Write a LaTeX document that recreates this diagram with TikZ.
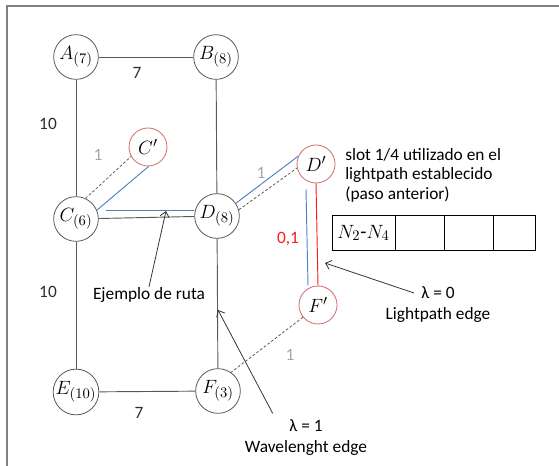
\documentclass[tikz,border=0pt]{standalone}
\usepackage{fontspec}
\setmainfont{Carlito}
\usetikzlibrary{arrows.meta,positioning}
\definecolor{EdgeGray}{HTML}{595959}
\definecolor{LabelGray}{HTML}{A6A6A6}
\definecolor{FrameGray}{HTML}{808080}
\definecolor{PathBlue}{HTML}{4F81BD}
\definecolor{VirtRed}{HTML}{D36A6A}
\definecolor{SlotRed}{HTML}{FF1A1A}

\begin{document}
\begin{tikzpicture}[
  x=0.75pt,y=-0.75pt,
  font=\fontsize{13}{14.6}\selectfont,
  physnode/.style={circle,draw=EdgeGray,line width=0.6pt,minimum size=33.5pt,inner sep=0pt,font=\fontsize{15}{17}\selectfont},
  virtnode/.style={circle,draw=VirtRed,line width=0.6pt,minimum size=28.5pt,inner sep=0pt,font=\fontsize{15}{17}\selectfont},
  edge/.style={draw=EdgeGray,line width=0.7pt},
  lpedge/.style={draw=PathBlue,line width=0.7pt},
  redge/.style={draw=SlotRed,line width=0.7pt},
  auxedge/.style={draw=EdgeGray,line width=0.6pt,dash pattern=on 2pt off 1.5pt},
  weight/.style={text=EdgeGray!50!black,inner sep=1pt},
  vweight/.style={text=LabelGray,inner sep=1pt},
  slotcell/.style={rectangle,draw=black,line width=0.6pt,minimum height=26.25pt,inner sep=0pt,outer sep=0pt,font=\fontsize{15}{17}\selectfont},
  pointer/.style={-{Straight Barb[length=4pt,width=7pt]},draw=EdgeGray!60!black,line width=0.6pt}
]
\useasboundingbox (0,0) rectangle (559,466);
% marco
\draw[FrameGray,line width=1.5pt] (7,466) -- (7,6) -- (559,6);

% red fisica
\node[physnode] (A) at (76,57) {$A_{(7)}$};
\node[physnode] (B) at (216,57) {$B_{(8)}$};
\node[physnode] (C) at (76,219) {$C_{(6)}$};
\node[physnode] (D) at (217,216) {$D_{(8)}$};
\node[physnode] (E) at (76,392) {$E_{(10)}$};
\node[physnode] (F) at (218,391) {$F_{(3)}$};

% nodos virtuales
\node[virtnode] (Cv) at (148,147) {$C'$};
\node[virtnode] (Dv) at (316,164) {$D'$};
\node[virtnode] (Fv) at (318,305) {$F'$};

\draw[edge] (A) -- (B);
\draw[edge] (A) -- (C);
\draw[edge] (B) -- (D);
\draw[edge] (C) -- (D);
\draw[edge] (C) -- (E);
\draw[edge] (D) -- (F);
\draw[edge] (E) -- (F);

\node[weight] (wAB) at (137,73) {7};
\node[weight] (wAC) at (48,124) {10};
\node[weight] (wCE) at (48,292) {10};
\node[weight] (wEF) at (139,413) {7};

% aristas auxiliares
\draw[auxedge] (C.65) -- (Cv.209);
\draw[auxedge] (D.16) -- (Dv.192);
\draw[auxedge] (Fv.219) -- (F.55);
\node[vweight] (wC) at (98,155) {1};
\node[vweight] (wD) at (261,173) {1};
\node[vweight] (wF) at (290,355) {1};

% ruta
\draw[lpedge] (C.23) -- (Cv.-88);
\draw[lpedge] ([shift={(7,-9)}]C.east) -- ([shift={(0,-6)}]D.west);
\draw[lpedge] (D.34) -- (Dv.156);
\draw[lpedge] ([shift={(-10,6)}]Dv.south) -- ([shift={(-10,0)}]Fv.north);
\draw[redge] (Dv.south) -- (Fv.north);
\node[text=SlotRed,inner sep=1pt] (wDF) at (288,239) {0,1};

% slot
\node[anchor=north west,align=left,inner sep=0pt] (slottxt) at (345,148)
  {slot 1/4 utilizado en el\\lightpath establecido\\(paso anterior)};
\node[slotcell,minimum width=47.25pt] (s1) at (363.5,233) {$N_2$-$N_4$};
\node[slotcell,minimum width=36.75pt,right=0pt of s1] (s2) {};
\node[slotcell,minimum width=36.75pt,right=0pt of s2] (s3) {};
\node[slotcell,minimum width=31.5pt,right=0pt of s3] (s4) {};

% anotaciones
\coordinate (rutapt) at (166,211);
\coordinate (wlpt) at (218,310);
\coordinate (lppt) at (325,263);
\node (ejemplo) at (149,295) {Ejemplo de ruta};
\node (lam0) at (438,293) {λ = 0};
\node[below=-1pt of lam0] (lam0txt) {Lightpath edge};
\node (lam1) at (306,426) {λ = 1};
\node[below=-1pt of lam1] (lam1txt) {Wavelenght edge};
\draw[pointer] ([yshift=-3pt]ejemplo.north) -- (rutapt);
\draw[pointer] ([shift={(-12,-2)}]lam1.north west) -- (wlpt);
\draw[pointer] ([xshift=-2]lam0.west) -- (lppt);
\end{tikzpicture}
\end{document}
